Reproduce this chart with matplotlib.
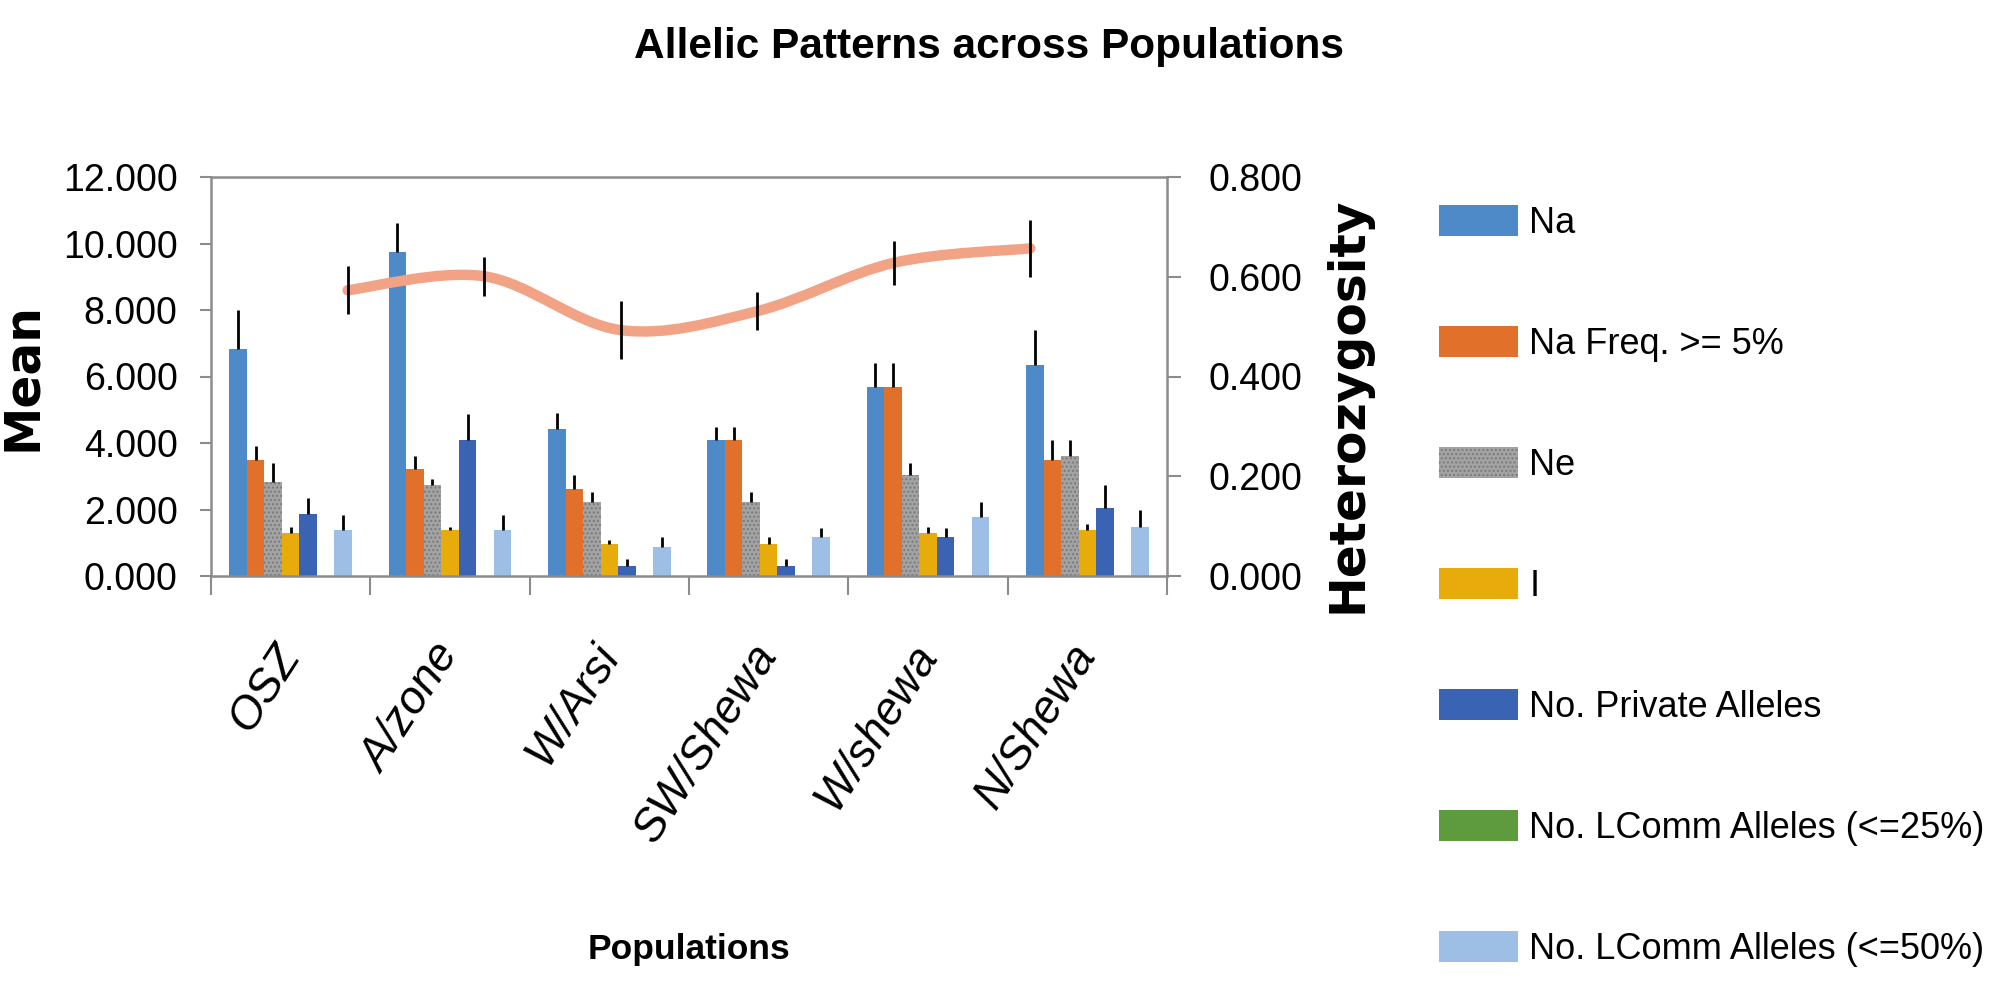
"""Allelic patterns across populations - bar + line chart"""

import numpy as np
import matplotlib
matplotlib.use('Agg')
import matplotlib.pyplot as plt
from matplotlib.path import Path
from matplotlib.patches import PathPatch
from matplotlib.ticker import FormatStrFormatter


populations = ['OSZ', 'A/zone', 'W/Arsi', 'SW/Shewa', 'W/shewa', 'N/Shewa']

na = [6.83, 9.74, 4.41, 4.10, 5.67, 6.35]
na_se = [1.16, 0.87, 0.48, 0.37, 0.75, 1.05]
na5 = [3.50, 3.22, 2.63, 4.10, 5.67, 3.50]
na5_se = [0.40, 0.38, 0.40, 0.37, 0.75, 0.58]
ne = [2.84, 2.74, 2.24, 2.24, 3.04, 3.62]
ne_se = [0.56, 0.19, 0.29, 0.29, 0.36, 0.47]
info = [1.29, 1.38, 0.97, 0.97, 1.28, 1.38]
info_se = [0.18, 0.10, 0.11, 0.20, 0.18, 0.18]
private = [1.87, 4.10, 0.30, 0.30, 1.17, 2.05]
private_se = [0.47, 0.78, 0.20, 0.20, 0.28, 0.69]
lcomm25 = [0, 0, 0, 0, 0, 0]
lcomm50 = [1.38, 1.38, 0.88, 1.17, 1.76, 1.47]
lcomm50_se = [0.46, 0.46, 0.29, 0.28, 0.48, 0.50]

het = [0.573, 0.601, 0.493, 0.531, 0.628, 0.657]
het_se = [0.048, 0.039, 0.058, 0.038, 0.044, 0.057]

series = [
    ('Na', na, na_se, '#4E8AC8'),
    ('Na Freq. >= 5%', na5, na5_se, '#E0702A'),
    ('Ne', ne, ne_se, '#A3A3A3'),
    ('I', info, info_se, '#E8AB0C'),
    ('No. Private Alleles', private, private_se, '#3B63B3'),
    ('No. LComm Alleles (<=25%)', lcomm25, None, '#5E9B3E'),
    ('No. LComm Alleles (<=50%)', lcomm50, lcomm50_se, '#9DBFE6'),
]

# Liberation Sans is narrower than DejaVu, closer to the squeezed original
face = 'Liberation Sans'
fs_tick, fs_title, fs_leg, fs_xlab = 27, 30.5, 26, 25.5
GREY = '#8C8C8C'

fig = plt.figure(figsize=(20.06, 9.92), dpi=100)
rect = [211 / 2006, 1 - 576 / 992, 956 / 2006, 399 / 992]
ax = fig.add_axes(rect)

x = np.arange(len(populations))
w = 0.11
for k, (label, vals, err, color) in enumerate(series):
    pos = x + (k - 3) * w
    hatch = '....' if label == 'Ne' else None
    ax.bar(pos, vals, width=w, color=color, label=label, hatch=hatch,
           edgecolor='#7A7A7A' if hatch else color, linewidth=0, zorder=2)
    if err is not None:
        ax.errorbar(pos, vals, yerr=[np.zeros(len(err)), err], fmt='none',
                    ecolor='black', elinewidth=2, capsize=0, zorder=3)

ax.set_xlim(-0.5, 5.5)
ax.set_ylim(0, 12)
ax.set_yticks(np.arange(0, 12.1, 2))
ax.yaxis.set_major_formatter(FormatStrFormatter('%.3f'))
ax.set_xticks(np.arange(-0.5, 5.6, 1))
ax.set_xticklabels([])
ax.set_xticks(x, minor=True)
ax.set_xticklabels(populations, minor=True, rotation=57, ha='right', va='center',
                   rotation_mode='anchor', fontsize=33, style='italic',
                   family=face)
ax.tick_params(axis='x', which='major', length=14, width=1.5, color=GREY)
ax.tick_params(axis='x', which='minor', length=0, pad=52)
ax.tick_params(axis='y', length=8, width=1.5, color=GREY, pad=16)
for lab in ax.get_yticklabels():
    lab.set_family(face)
    lab.set_fontsize(fs_tick)
for side in ['left', 'right', 'top', 'bottom']:
    ax.spines[side].set_color(GREY)
    ax.spines[side].set_linewidth(1.8)

ax.set_ylabel('Mean', fontsize=35, fontweight='bold', family='DejaVu Sans')
ax.yaxis.label.set_va('center')
ax.yaxis.set_label_coords(-0.198, 0.5)
ax.set_xlabel('Populations', fontsize=fs_xlab, fontweight='bold', family=face)
ax.xaxis.label.set_va('center')
ax.xaxis.set_label_coords(0.5, -0.937)

# heterozygosity on its own axes (secondary scale on the right)
ax2 = fig.add_axes(rect, frameon=False)
ax2.set_xlim(-1, 6)
ax2.set_ylim(0, 0.8)
ax2.xaxis.set_visible(False)
ax2.yaxis.tick_right()
ax2.yaxis.set_label_position('right')
ax2.set_yticks(np.arange(0, 0.81, 0.2))
ax2.yaxis.set_major_formatter(FormatStrFormatter('%.3f'))
ax2.tick_params(axis='y', length=10, width=1.5, color=GREY, pad=20)
for lab in ax2.get_yticklabels():
    lab.set_family(face)
    lab.set_fontsize(fs_tick)

# smoothed line through the points (cubic bezier, catmull-rom style handles)
hx = np.arange(len(het), dtype=float)
hy = np.array(het)
n = len(hx)
verts = [(hx[0], hy[0])]
codes = [Path.MOVETO]
for i in range(n - 1):
    a = max(i - 1, 0)
    b = min(i + 2, n - 1)
    c1 = (hx[i] + (hx[i + 1] - hx[a]) / 6, hy[i] + (hy[i + 1] - hy[a]) / 6)
    c2 = (hx[i + 1] - (hx[b] - hx[i]) / 6, hy[i + 1] - (hy[b] - hy[i]) / 6)
    verts += [c1, c2, (hx[i + 1], hy[i + 1])]
    codes += [Path.CURVE4] * 3
ax2.add_patch(PathPatch(Path(verts, codes), fill=False, edgecolor='#F2A285',
                        linewidth=7.5, capstyle='round', zorder=2))
ax2.errorbar(hx, hy, yerr=het_se, fmt='none', ecolor='black', elinewidth=2,
             capsize=0, zorder=3)

ax2.set_ylabel('Heterozygosity', fontsize=35, fontweight='bold',
               family='DejaVu Sans', rotation=90)
ax2.yaxis.label.set_va('center')
ax2.yaxis.set_label_coords(1.189, 0.43)

fig.text(989 / 2006, 1 - 47 / 992, 'Allelic Patterns across Populations',
         ha='center', va='center', fontsize=fs_title, fontweight='bold', family=face)

pitch = 121 * 72 / 100
fig.legend(*ax.get_legend_handles_labels(), loc='upper left',
           bbox_to_anchor=(1439 / 2006, 1 - 205 / 992), frameon=False,
           prop={'family': face, 'size': fs_leg}, borderpad=0, borderaxespad=0,
           handlelength=57 / fs_leg, handleheight=25 / fs_leg,
           handletextpad=8 / fs_leg,
           labelspacing=(pitch - 1.3 * fs_leg) / fs_leg + 0.3)

fig.savefig('out.png', dpi=100)
